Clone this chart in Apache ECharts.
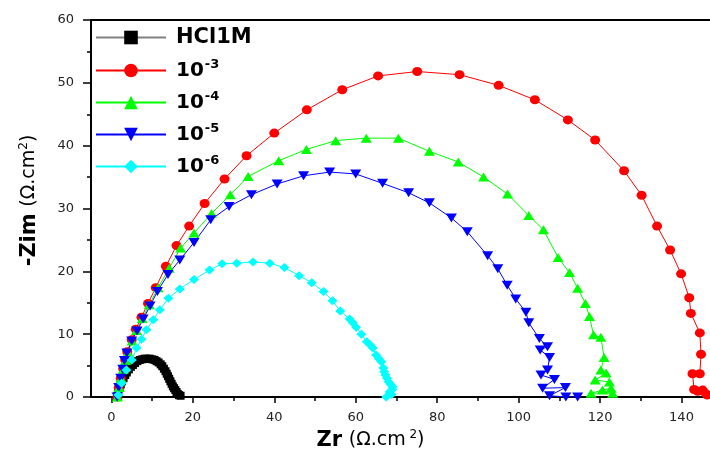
<!DOCTYPE html>
<html>
<head>
<meta charset="utf-8">
<script src="https://cdn.jsdelivr.net/npm/echarts@6/dist/echarts.min.js"></script>
<style>
  html, body { margin: 0; padding: 0; background: #fff; }
  #chart { width: 710px; height: 452px; }
</style>
</head>
<body>
<div id="chart"></div>
<script>
// Nyquist data, [Zr, -Zim] in ohm.cm2
const hclData = [
  [1.5, 0.2], [1.7, 0.8], [2.0, 1.4], [2.3, 2.0], [2.6, 2.5], [3.0, 3.0], [3.4, 3.5],
  [3.8, 3.9], [4.3, 4.4], [4.8, 4.8], [5.3, 5.1], [5.8, 5.4], [6.4, 5.7], [7.0, 5.9],
  [7.6, 6.0], [8.2, 6.1], [8.8, 6.1], [9.4, 6.1], [10.0, 6.0], [10.6, 5.9], [11.1, 5.7],
  [11.6, 5.5], [12.1, 5.2], [12.5, 4.9], [12.9, 4.5], [13.3, 4.1], [13.6, 3.7], [13.9, 3.3],
  [14.2, 2.9], [14.5, 2.5], [14.8, 2.1], [15.1, 1.7], [15.4, 1.4], [15.7, 1.1], [16.0, 0.8],
  [16.3, 0.5], [16.6, 0.3], [17.0, 0.2]
]
const data1e3 = [
  [1.5, 0], [1.8, 1.5], [2.3, 3.0], [2.9, 4.5], [3.4, 5.9], [3.9, 7.2], [5.0, 9.1],
  [6.0, 10.8], [7.4, 12.7], [9.0, 14.9], [10.9, 17.4], [13.4, 20.8], [16.0, 24.1],
  [19.1, 27.2], [22.9, 30.8], [27.8, 34.7], [33.2, 38.4], [40.0, 42.0], [48.0, 45.7],
  [56.7, 48.9], [65.5, 51.1], [75.1, 51.8], [85.5, 51.3], [95.1, 49.6], [104.0, 47.3],
  [112.1, 44.1], [118.8, 40.9], [125.9, 36.0], [130.2, 32.1], [134.0, 27.2], [137.2, 23.4],
  [139.9, 19.6], [141.9, 15.8], [142.3, 13.3], [144.5, 10.2], [144.8, 6.8], [144.5, 3.7],
  [142.7, 3.7], [143.1, 1.2], [145.2, 1.1], [146.0, 0.5], [144.0, 0.9], [146.3, 0.3]
]
const data1e4 = [
  [1.5, 0], [1.9, 1.5], [2.4, 3.0], [2.9, 4.4], [3.5, 5.8], [4.1, 7.1], [5.1, 8.9],
  [6.2, 10.6], [7.6, 12.5], [9.3, 14.7], [11.5, 17.4], [14.2, 20.5], [17.0, 23.7],
  [20.3, 26.1], [24.6, 29.2], [29.2, 32.2], [33.6, 35.1], [41.1, 37.6], [47.9, 39.4],
  [55.1, 40.8], [62.6, 41.2], [70.5, 41.2], [78.1, 39.1], [85.2, 37.4], [91.4, 35.0],
  [97.3, 32.3], [102.5, 28.9], [106.1, 26.6], [109.7, 22.2], [112.5, 19.8], [114.5, 17.3],
  [116.4, 14.9], [117.4, 12.8], [118.4, 9.9], [120.2, 9.5], [121.0, 6.3], [120.2, 4.3],
  [121.5, 3.8], [118.8, 2.7], [122.3, 2.4], [122.7, 1.4], [120.6, 1.1], [117.8, 0.6],
  [123.1, 0.6]
]
const data1e5 = [
  [1.4, 0], [1.8, 1.5], [2.3, 3.0], [2.8, 4.4], [3.2, 5.8], [3.8, 7.0], [5.0, 8.9],
  [6.3, 10.5], [7.8, 12.4], [9.5, 14.5], [11.3, 16.8], [13.9, 19.5], [16.8, 21.8],
  [20.3, 24.6], [24.4, 28.2], [28.9, 30.3], [34.4, 32.2], [40.7, 33.9], [47.2, 35.2],
  [53.6, 35.8], [60.0, 35.5], [66.6, 34.0], [73.0, 32.5], [78.1, 30.9], [83.5, 28.5],
  [87.4, 26.3], [92.4, 22.5], [94.9, 20.4], [97.2, 17.8], [99.3, 15.6], [101.8, 13.5],
  [102.5, 11.8], [105.1, 9.3], [107.1, 8.0], [105.3, 7.5], [107.6, 6.3], [107.1, 4.3],
  [105.5, 3.5], [108.8, 2.8], [105.9, 1.4], [111.5, 1.5], [107.6, 0.2], [111.6, 0.0],
  [114.5, 0.0]
]
const data1e6 = [
  [1.7, 0.3], [2.5, 2.2], [3.7, 4.3], [5.0, 5.9], [6.2, 7.8], [7.4, 9.2], [8.6, 10.7],
  [10.3, 12.3], [11.9, 13.9], [14.0, 15.7], [16.8, 17.2], [20.3, 18.7], [24.1, 20.2],
  [27.2, 21.2], [30.8, 21.3], [34.8, 21.5], [38.9, 21.3], [42.5, 20.6], [46.1, 19.3],
  [49.2, 18.2], [52.1, 16.8], [54.3, 15.3], [56.2, 13.7], [58.5, 12.4], [59.3, 11.8],
  [60.1, 11.1], [61.4, 10.0], [62.7, 8.8], [63.5, 8.3], [64.2, 7.8], [65.0, 6.7],
  [65.7, 6.1], [66.3, 5.6], [66.8, 4.6], [67.0, 4.0], [67.3, 3.5], [67.7, 3.0],
  [68.1, 2.4], [68.6, 2.0], [69.1, 1.6], [69.0, 1.2], [68.3, 0.8], [68.8, 0.4], [67.5, 0.0]
]

const xMajorTicks = [0, 20, 40, 60, 80, 100, 120, 140]
const xMinorTicks = [10, 30, 50, 70, 90, 110, 130]

const seriesDefs = [
  { name: 'HCl1M', data: hclData, color: '#000000', lineColor: '#808080', symbol: 'rect', size: 8, rotate: 0 },
  { name: '10-3', data: data1e3, color: '#ff0000', lineColor: '#ff0000', symbol: 'circle', size: [10, 9], rotate: 0 },
  { name: '10-4', data: data1e4, color: '#00ff00', lineColor: '#00ff00', symbol: 'triangle', size: [11, 9], rotate: 0 },
  { name: '10-5', data: data1e5, color: '#0000ff', lineColor: '#0000ff', symbol: 'triangle', size: [11, 9], rotate: 180 },
  { name: '10-6', data: data1e6, color: '#00ffff', lineColor: '#00ffff', symbol: 'diamond', size: [10, 9], rotate: 0 },
]

const chart = echarts.init(document.getElementById('chart'))

const FONT = 'DejaVu Sans, Verdana, sans-serif'
const tickFont = { color: '#222', fontSize: 13, fontFamily: FONT }
const axisBlack = { color: '#000', width: 2 }
const nameRich = {
  b: { fontSize: 21, fontWeight: 'bold', color: '#000', fontFamily: FONT },
  n: { fontSize: 19, color: '#000', fontFamily: FONT },
  s: { fontSize: 12, color: '#000', fontFamily: FONT, padding: [0, 0, 11, 0] },
}

const option = {
  backgroundColor: '#fff',
  animation: false,
  grid: { left: 91, right: 0, top: 20, bottom: 55, outerBoundsMode: 'none' },
  legend: {
    orient: 'vertical',
    left: 95,
    top: 24,
    padding: 0,
    itemWidth: 70,
    itemHeight: 17,
    itemGap: 7,
    data: seriesDefs.map(s => s.name),
    formatter: (name) => {
      if (name === 'HCl1M') return '{h|HCl1M}'
      return '{b|10}{s|' + name.slice(2) + '}'
    },
    textStyle: {
      padding: [0, 0, 0, 5],
      rich: {
        h: { fontSize: 21, fontWeight: 'bold', color: '#000', fontFamily: FONT, lineHeight: 24, padding: [3, 0, 3, 0] },
        b: { fontSize: 20, fontWeight: 'bold', color: '#000', fontFamily: FONT, lineHeight: 24 },
        s: { fontSize: 13, fontWeight: 'bold', color: '#000', fontFamily: FONT, padding: [0, 0, 12, 1], lineHeight: 24 },
      },
    },
  },
  xAxis: [
    {
      type: 'value',
      min: -5,
      max: 147,
      position: 'bottom',
      name: '{b|Zr}  {n|(Ω.cm}{s| 2}{n|)}',
      nameLocation: 'middle',
      nameGap: 23,
      nameTextStyle: { padding: [0, 60, 0, 0], rich: nameRich },
      axisLine: { onZero: false, lineStyle: axisBlack },
      axisTick: { show: true, length: 6, lineStyle: { color: '#000', width: 1.5 }, customValues: xMajorTicks },
      axisLabel: { ...tickFont, margin: 14, customValues: xMajorTicks },
      splitLine: { show: false },
    },
    {
      type: 'value',
      min: -5,
      max: 147,
      position: 'bottom',
      axisLine: { show: false },
      axisTick: { show: true, length: 4, lineStyle: { color: '#000', width: 1.5 }, customValues: xMinorTicks },
      axisLabel: { show: false },
      splitLine: { show: false },
    },
    {
      type: 'value',
      min: -5,
      max: 147,
      position: 'top',
      axisLine: { show: true, onZero: false, lineStyle: axisBlack },
      axisTick: { show: false },
      axisLabel: { show: false },
      splitLine: { show: false },
    },
  ],
  yAxis: {
    type: 'value',
    min: 0,
    max: 60,
    interval: 10,
    name: '{b|-Zim}  {n|(Ω.cm}{s|2}{n|)}',
    nameLocation: 'middle',
    nameGap: 50,
    nameTextStyle: { padding: [0, 0, 0, 16], rich: nameRich },
    axisLine: { show: true, onZero: false, lineStyle: axisBlack },
    axisTick: { show: true, length: 8, lineStyle: { color: '#000', width: 1.5 } },
    minorTick: { show: true, splitNumber: 2, length: 4, lineStyle: { color: '#000', width: 1.5 } },
    axisLabel: { ...tickFont, margin: 17 },
    splitLine: { show: false },
  },
  series: seriesDefs.map(s => ({
    name: s.name,
    type: 'line',
    data: s.data,
    symbol: s.symbol,
    symbolSize: s.size,
    symbolRotate: s.rotate,
    showAllSymbol: true,
    lineStyle: { color: s.lineColor, width: 1 },
    itemStyle: { color: s.color },
  })),
}

chart.setOption(option)
window.addEventListener('resize', () => chart.resize())
</script>
</body>
</html>
